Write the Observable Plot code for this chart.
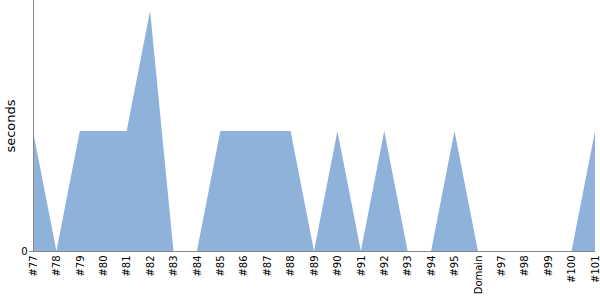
<!DOCTYPE html>
<html><head><meta charset="utf-8">
<script src="https://cdn.jsdelivr.net/npm/d3@7"></script>
<script src="https://cdn.jsdelivr.net/npm/@observablehq/plot@0.6"></script>
<style>body{margin:0;background:#fff;font-family:"DejaVu Sans",sans-serif;}</style>
</head><body><div id="chart"></div>
<script>
const runs = ["#77","#78","#79","#80","#81","#82","#83","#84","#85","#86","#87","#88","#89","#90","#91","#92","#93","#94","#95","Domain","#97","#98","#99","#100","#101"];
const seconds = [1,0,1,1,1,2,0,0,1,1,1,1,0,1,0,1,0,0,1,0,0,0,0,0,1];
const data = runs.map((r, i) => ({i, run: r, s: seconds[i]}));
const idx = runs.map((_, i) => i);
const chart = Plot.plot({
  width: 600, height: 300,
  marginLeft: 33, marginRight: 5, marginTop: 0, marginBottom: 49,
  style: {fontFamily: "DejaVu Sans, sans-serif", fontSize: "10px", color: "#000", background: "#fff"},
  x: {type: "linear", domain: [0, runs.length - 1]},
  y: {domain: [0, 2.09]},
  marks: [
    Plot.areaY(data, {x: "i", y: "s", fill: "#8fb2db", curve: "linear"}),
    Plot.ruleY([0], {stroke: "#888"}),
    Plot.ruleX([0], {stroke: "#888"}),
    Plot.axisX({ticks: idx, tickFormat: i => runs[i], tickSize: 0, tickRotate: -90, textAnchor: "end", tickPadding: 4, label: null, fontSize: 10}),
    Plot.axisY({ticks: [0], tickFormat: d => String(d), tickSize: 4, stroke: "#888", tickPadding: 2, label: null, fontSize: 10}),
    Plot.text(["seconds"], {frameAnchor: "left", dx: -23, rotate: -90, fontSize: 13, fill: "#000", textAnchor: "middle"})
  ]
});
document.getElementById("chart").appendChild(chart);
</script></body></html>
